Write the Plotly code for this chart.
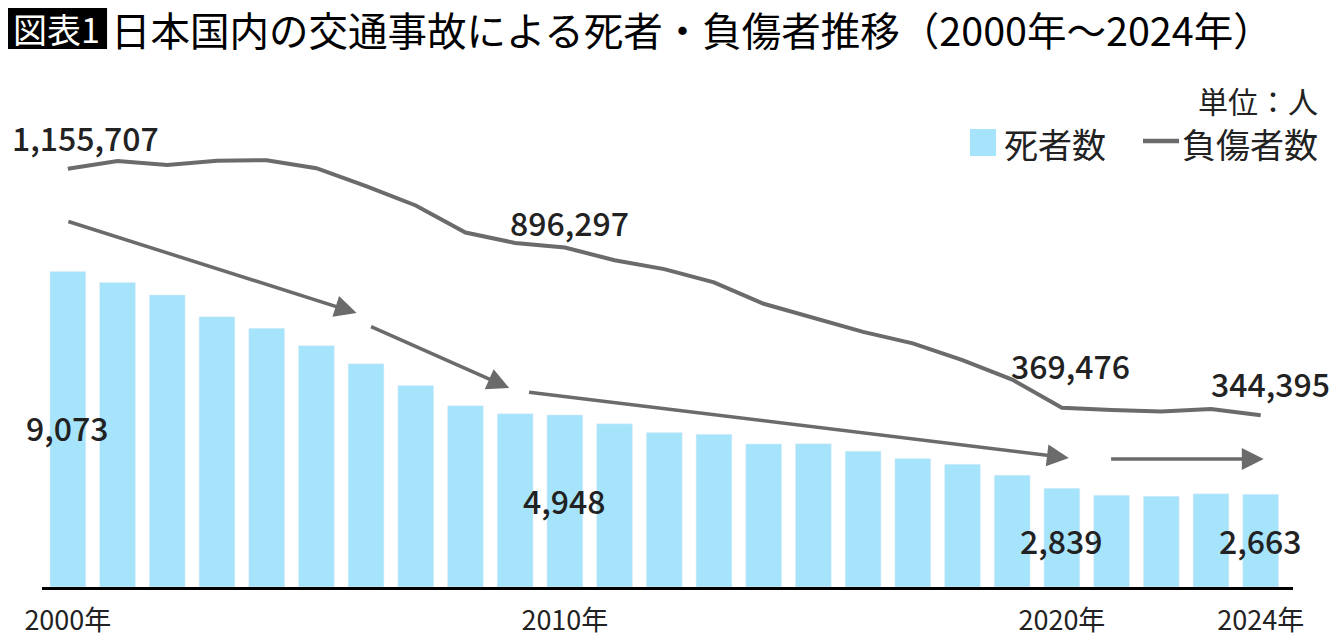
import plotly.graph_objects as go

years = list(range(2000, 2025))
deaths = [9073, 8757, 8396, 7768, 7436, 6937, 6415, 5796, 5209, 4979,
          4948, 4691, 4438, 4388, 4113, 4117, 3904, 3694, 3532, 3215,
          2839, 2636, 2610, 2678, 2663]
injured = [1155707, 1181039, 1168029, 1181681, 1183617, 1157113, 1098564, 1034652, 945703, 911215,
           896297, 854613, 825392, 781492, 711374, 666023, 618853, 580850, 525846, 461775,
           369476, 362131, 356601, 365027, 344395]
tick_years = [2000, 2010, 2020, 2024]
tick_text = ["2000年", "2010年", "2020年", "2024年"]
label_years = [2000, 2010, 2020, 2024]

FONT = "Noto Sans CJK JP"
BAR = "#a6e4fb"
LINE = "#6b6b6b"

idx = list(range(len(years)))

fig = go.Figure()
fig.add_trace(go.Bar(x=idx, y=deaths, marker_color=BAR, width=0.72,
                     name="死者数", showlegend=False))
fig.add_trace(go.Scatter(x=idx, y=injured, yaxis="y2", mode="lines",
                         line=dict(color=LINE, width=4), name="負傷者数",
                         showlegend=False))

ann = []
# value labels
inj_shift = [(18, 32), (5, 26), (9, 43), (10, 32)]
death_y = [0.3285, 0.1786, 0.0965, 0.0965]
for k, yr in enumerate(label_years):
    i = years.index(yr)
    ann.append(dict(x=i, y=injured[i], xref="x", yref="y2", text=f"{injured[i]:,}",
                    showarrow=False, xshift=inj_shift[k][0], yshift=inj_shift[k][1],
                    yanchor="middle",
                    font=dict(size=32, color="#222222", family=FONT, weight=500)))
    ann.append(dict(x=i, y=death_y[k], xref="x", yref="paper", text=f"{deaths[i]:,}",
                    showarrow=False, yanchor="middle",
                    font=dict(size=32, color="#222222", family=FONT, weight=500)))

# trend arrows (tail -> head, x in bar index, y in deaths axis)
arrows = [((-0.02, 10520), (5.81, 7876)),
          ((6.07, 7502), (8.88, 5720)),
          ((9.25, 5605), (20.14, 3708)),
          ((20.96, 3679), (24.06, 3679))]
for (tx, ty), (hx, hy) in arrows:
    ann.append(dict(x=hx, y=hy, ax=tx, ay=ty, xref="x", yref="y", axref="x", ayref="y",
                    text="", showarrow=True, arrowhead=2, arrowsize=1.25, arrowwidth=3.5,
                    arrowcolor=LINE, standoff=0))

# title
ann.append(dict(x=0.0116, y=1.1458, xref="paper", yref="paper", xanchor="center", yanchor="middle",
                text="図表1", showarrow=False,
                font=dict(size=34, color="white", family=FONT)))
ann.append(dict(x=0.0535, y=1.1458, xref="paper", yref="paper", xanchor="left", yanchor="middle",
                text="日本国内の交通事故による死者・負傷者推移（2000年～2024年）", showarrow=False,
                font=dict(size=39.5, color="black", family=FONT)))
ann.append(dict(x=1.0216, y=1.0, xref="paper", yref="paper", xanchor="right", yanchor="middle",
                text="単位：人", showarrow=False,
                font=dict(size=30, color="#222222", family=FONT)))
# legend
ann.append(dict(x=0.7674, y=0.9117, xref="paper", yref="paper", xanchor="left", yanchor="middle",
                text="死者数", showarrow=False,
                font=dict(size=34, color="#222222", family=FONT)))
ann.append(dict(x=1.0216, y=0.9117, xref="paper", yref="paper", xanchor="right", yanchor="middle",
                text="負傷者数", showarrow=False,
                font=dict(size=34, color="#222222", family=FONT)))

shapes = [
    dict(type="rect", xref="paper", yref="paper", x0=-0.0304, x1=0.052, y0=1.1048, y1=1.191,
         fillcolor="black", line=dict(width=0), layer="below"),
    dict(type="rect", xref="paper", yref="paper", x0=0.7418, x1=0.7626, y0=0.885, y1=0.9405,
         fillcolor=BAR, line=dict(width=0)),
    dict(type="line", xref="paper", yref="paper", x0=0.8801, x1=0.9089, y0=0.9158, y1=0.9158,
         line=dict(color=LINE, width=4.5)),
]

# the page body adds an 8px margin on every side, so keep the figure inside the window
fig.update_layout(
    width=1324, height=626,
    margin=dict(l=34, r=39, t=92, b=47),
    paper_bgcolor="white", plot_bgcolor="white",
    annotations=ann, shapes=shapes,
    font=dict(family=FONT, color="#222222"),
    xaxis=dict(range=[-0.52, 24.65], tickvals=[years.index(y) for y in tick_years],
               ticktext=tick_text, showgrid=False, zeroline=False, showline=True,
               linecolor="black", linewidth=3, ticks="", ticklabelstandoff=8,
               automargin=False,
               tickfont=dict(size=27, color="#222222", family=FONT)),
    yaxis=dict(range=[0, 14000], visible=False, showgrid=False),
    yaxis2=dict(range=[-220395, 1381579], overlaying="y", visible=False, showgrid=False),
)

fig.write_html("out.html")
